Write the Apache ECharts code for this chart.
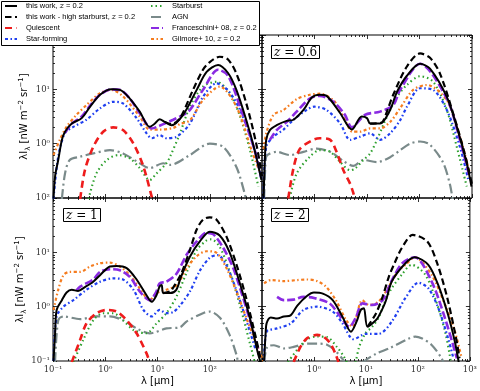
<!DOCTYPE html>
<html>
<head>
<meta charset="utf-8">
<script src="https://cdn.jsdelivr.net/npm/echarts@6/dist/echarts.min.js"></script>
<style>
  html, body { margin: 0; padding: 0; background: #fff; }
  #chart { width: 480px; height: 391px; }
</style>
</head>
<body>
<div id="chart"></div>
<script>
// every point is [log10(lambda / um), log10(lambda I_lambda / nW m^-2 sr^-1)]

// z = 0.2
const z02_thisWork = [[-0.99,-1.01],[-0.96,-0.6],[-0.9,-0.3],[-0.83,0.07],[-0.77,0.22],[-0.64,0.37],[-0.45,0.47],[-0.29,0.68],[-0.1,0.9],[0.12,1.0],[0.28,0.99],[0.47,0.83],[0.66,0.59],[0.85,0.31],[0.95,0.37],[1.04,0.45],[1.14,0.4],[1.27,0.34],[1.49,0.53],[1.75,0.99],[1.94,1.32],[2.16,1.45],[2.35,1.3],[2.51,0.99],[2.7,0.43],[2.86,-0.12],[2.99,-0.67]];
const z02_highSB = [[1.14,0.4],[1.27,0.36],[1.43,0.47],[1.68,0.99],[1.87,1.36],[2.0,1.5],[2.19,1.6],[2.35,1.55],[2.51,1.29],[2.7,0.74],[2.89,0.0],[3.0,-0.6]];
const z02_quiescent = [[-0.48,-1.02],[-0.39,-0.49],[-0.23,-0.06],[-0.04,0.22],[0.15,0.3],[0.34,0.25],[0.54,0.0],[0.73,-0.42],[0.89,-0.98],[0.92,-1.1]];
const z02_starForming = [[-0.99,-1.01],[-0.9,-0.24],[-0.77,0.2],[-0.61,0.31],[-0.36,0.44],[-0.1,0.65],[0.15,0.77],[0.34,0.74],[0.6,0.47],[0.79,0.19],[0.89,0.1],[1.04,0.16],[1.17,0.1],[1.37,0.13],[1.62,0.37],[1.87,0.86],[2.13,1.11],[2.35,0.98],[2.58,0.62],[2.86,-0.12],[2.99,-0.67]];
const z02_starburst = [[-0.32,-1.02],[-0.17,-0.55],[0.03,-0.3],[0.25,-0.21],[0.47,-0.27],[0.66,-0.45],[0.85,-0.67],[0.98,-0.55],[1.17,-0.36],[1.24,-0.24],[1.43,0.19],[1.62,0.68],[1.87,1.05],[2.13,1.14],[2.38,0.93],[2.58,0.5],[2.77,-0.12],[2.93,-0.79]];
const z02_agn = [[-0.83,-1.02],[-0.77,-0.55],[-0.68,-0.3],[-0.48,-0.24],[-0.23,-0.18],[0.09,-0.12],[0.34,-0.18],[0.66,-0.36],[0.85,-0.45],[1.11,-0.36],[1.24,-0.39],[1.62,-0.21],[2.0,0.0],[2.26,-0.06],[2.51,-0.43],[2.67,-0.92],[2.7,-1.05]];
const z02_fr08 = [[-0.77,0.2],[-0.64,0.37],[-0.45,0.5],[-0.29,0.7],[-0.1,0.9],[0.12,1.0],[0.28,0.99],[0.47,0.83],[0.66,0.56],[0.89,0.28],[1.04,0.33],[1.3,0.44],[1.49,0.53],[1.62,0.62],[1.87,0.99],[2.16,1.36],[2.35,1.25],[2.58,0.68],[2.86,-0.12],[2.98,-0.6]];
const z02_gi10 = [[-0.99,-0.21],[-0.87,0.07],[-0.74,0.31],[-0.55,0.53],[-0.36,0.71],[-0.1,0.93],[0.12,0.99],[0.34,0.87],[0.66,0.5],[0.85,0.26],[1.04,0.26],[1.3,0.29],[1.43,0.36],[1.62,0.43],[1.87,0.8],[2.19,1.05],[2.51,0.68],[2.8,-0.12],[2.97,-0.55]];

// z = 0.6
const z06_thisWork = [[-0.97,-1.01],[-0.95,-0.4],[-0.92,0.07],[-0.85,0.25],[-0.72,0.34],[-0.53,0.42],[-0.4,0.44],[-0.21,0.62],[-0.05,0.85],[0.1,0.9],[0.23,0.88],[0.49,0.56],[0.71,0.26],[0.9,0.5],[1.0,0.47],[1.06,0.37],[1.25,0.37],[1.44,0.62],[1.57,0.95],[1.76,1.25],[2.01,1.47],[2.2,1.38],[2.52,0.86],[2.71,0.31],[2.9,-0.36],[2.99,-0.79]];
const z06_highSB = [[1.06,0.37],[1.25,0.38],[1.31,0.42],[1.5,0.9],[1.76,1.42],[2.01,1.66],[2.2,1.58],[2.39,1.29],[2.64,0.56],[2.86,-0.18],[3.0,-0.75]];
const z06_quiescent = [[-0.5,-1.01],[-0.4,-0.45],[-0.28,-0.1],[-0.03,0.07],[0.1,0.1],[0.3,0.07],[0.42,-0.15],[0.55,-0.49],[0.68,-0.74],[0.74,-0.91],[0.78,-1.05]];
const z06_starForming = [[-0.97,-1.01],[-0.92,-0.06],[-0.78,0.13],[-0.59,0.26],[-0.4,0.44],[-0.15,0.62],[0.0,0.68],[0.23,0.62],[0.49,0.37],[0.68,0.07],[0.87,0.13],[1.06,0.19],[1.25,0.07],[1.44,0.19],[1.63,0.43],[1.76,0.68],[2.01,1.02],[2.26,0.99],[2.52,0.62],[2.77,-0.06],[2.93,-0.67]];
const z06_starburst = [[-0.47,-1.0],[-0.34,-0.55],[-0.09,-0.24],[0.1,-0.12],[0.3,-0.15],[0.49,-0.34],[0.68,-0.49],[0.77,-0.46],[0.93,-0.3],[1.06,-0.18],[1.19,0.07],[1.32,0.37],[1.44,0.62],[1.57,0.86],[1.76,1.08],[2.01,1.24],[2.26,1.14],[2.52,0.62],[2.71,-0.06],[2.9,-0.79]];
const z06_agn = [[-0.96,-1.02],[-0.93,-0.3],[-0.9,-0.21],[-0.72,-0.15],[-0.47,-0.21],[-0.21,-0.15],[0.04,-0.09],[0.3,-0.15],[0.55,-0.32],[0.74,-0.41],[0.93,-0.3],[1.19,-0.34],[1.44,-0.25],[1.63,-0.12],[1.82,0.0],[2.01,0.04],[2.2,-0.02],[2.45,-0.35],[2.58,-0.75],[2.63,-1.02]];
const z06_fr08 = [[-0.85,0.07],[-0.72,0.25],[-0.53,0.4],[-0.34,0.59],[-0.09,0.83],[0.1,0.88],[0.36,0.77],[0.58,0.53],[0.71,0.3],[0.96,0.53],[1.25,0.59],[1.5,0.71],[1.63,0.99],[2.01,1.47],[2.52,0.83],[2.77,0.07],[2.95,-0.6]];
const z06_gi10 = [[-0.97,-0.1],[-0.92,0.19],[-0.78,0.53],[-0.59,0.62],[-0.34,0.82],[-0.09,0.9],[0.1,0.92],[0.36,0.8],[0.49,0.6],[0.61,0.38],[0.72,0.22],[0.87,0.22],[1.06,0.28],[1.25,0.28],[1.44,0.4],[1.63,0.65],[1.88,0.99],[2.14,1.08],[2.52,0.8],[2.77,0.13],[2.96,-0.55]];

// z = 1
const z1_thisWork = [[-0.99,-1.0],[-0.96,-0.49],[-0.93,-0.06],[-0.83,0.12],[-0.74,0.26],[-0.64,0.31],[-0.52,0.29],[-0.39,0.36],[-0.23,0.46],[-0.1,0.58],[0.09,0.74],[0.22,0.75],[0.41,0.71],[0.6,0.5],[0.79,0.21],[0.89,0.09],[0.98,0.21],[1.04,0.37],[1.08,0.4],[1.11,0.25],[1.24,0.25],[1.36,0.31],[1.45,0.55],[1.62,0.92],[1.81,1.2],[2.0,1.38],[2.19,1.31],[2.38,1.0],[2.57,0.45],[2.76,-0.18],[2.92,-0.85],[2.98,-1.05]];
const z1_highSB = [[1.11,0.25],[1.24,0.28],[1.3,0.35],[1.45,0.6],[1.62,1.04],[1.75,1.42],[1.87,1.6],[2.0,1.645],[2.13,1.6],[2.32,1.29],[2.51,0.78],[2.7,0.15],[2.89,-0.6],[2.97,-0.94]];
const z1_quiescent = [[-0.64,-1.02],[-0.48,-0.61],[-0.36,-0.31],[-0.17,-0.12],[0.03,-0.06],[0.22,-0.09],[0.41,-0.25],[0.6,-0.49],[0.79,-0.86],[0.85,-1.02]];
const z1_starForming = [[-0.99,-1.0],[-0.93,-0.18],[-0.8,0.0],[-0.61,0.12],[-0.36,0.31],[-0.1,0.46],[0.15,0.52],[0.34,0.5],[0.54,0.31],[0.73,-0.06],[0.89,-0.18],[1.04,-0.06],[1.17,-0.12],[1.3,-0.1],[1.43,0.02],[1.62,0.28],[1.81,0.66],[2.0,0.9],[2.15,0.95],[2.32,0.76],[2.51,0.3],[2.7,-0.25],[2.88,-0.8]];
const z1_starburst = [[-0.61,-1.02],[-0.42,-0.61],[-0.23,-0.25],[-0.04,-0.12],[0.15,-0.12],[0.34,-0.25],[0.54,-0.43],[0.79,-0.49],[0.98,-0.31],[1.17,-0.12],[1.36,0.18],[1.55,0.61],[1.75,1.04],[1.94,1.22],[2.03,1.24],[2.19,1.1],[2.38,0.65],[2.57,0.05],[2.77,-0.68],[2.86,-1.02]];
const z1_agn = [[-0.96,-1.02],[-0.9,-0.25],[-0.8,-0.18],[-0.48,-0.23],[-0.17,-0.18],[0.09,-0.18],[0.34,-0.25],[0.6,-0.4],[0.85,-0.49],[1.17,-0.4],[1.43,-0.38],[1.56,-0.27],[1.87,-0.12],[2.0,-0.09],[2.2,-0.21],[2.38,-0.52],[2.51,-0.88],[2.54,-1.02]];
const z1_fr08 = [[-0.55,0.3],[-0.48,0.37],[-0.23,0.5],[-0.1,0.64],[0.09,0.69],[0.28,0.67],[0.47,0.55],[0.66,0.28],[0.85,0.12],[0.98,0.28],[1.04,0.43],[1.17,0.46],[1.36,0.6],[1.56,0.96],[1.75,1.2],[1.94,1.36],[2.07,1.33],[2.26,1.08],[2.45,0.71],[2.64,0.16],[2.83,-0.45],[2.95,-0.9]];
const z1_gi10 = [[-0.99,-0.06],[-0.9,0.31],[-0.8,0.58],[-0.68,0.64],[-0.48,0.64],[-0.29,0.74],[-0.1,0.8],[0.09,0.81],[0.28,0.74],[0.47,0.58],[0.66,0.34],[0.85,0.12],[0.98,0.25],[1.17,0.31],[1.37,0.4],[1.56,0.71],[1.75,0.93],[1.94,1.02],[2.13,0.99],[2.32,0.71],[2.51,0.28],[2.7,-0.21],[2.9,-0.7],[3.02,-1.0]];

// z = 2
const z2_thisWork = [[-0.96,-1.0],[-0.93,-0.49],[-0.91,-0.3],[-0.83,-0.2],[-0.71,-0.22],[-0.58,-0.18],[-0.45,-0.16],[-0.32,0.02],[-0.13,0.2],[0.0,0.26],[0.17,0.24],[0.36,0.12],[0.55,-0.19],[0.71,-0.46],[0.83,-0.25],[0.9,-0.06],[0.96,-0.03],[1.03,-0.37],[1.19,-0.25],[1.25,-0.17],[1.38,0.1],[1.5,0.47],[1.76,0.8],[1.94,0.91],[2.2,0.77],[2.39,0.4],[2.58,-0.15],[2.71,-0.64],[2.77,-0.94],[2.79,-1.05]];
const z2_highSB = [[1.03,-0.37],[1.19,-0.13],[1.32,0.18],[1.44,0.55],[1.55,0.8],[1.69,1.08],[1.9,1.32],[2.18,1.2],[2.37,0.8],[2.56,0.18],[2.73,-0.56],[2.8,-0.95]];
const z2_quiescent = [[-0.39,-1.02],[-0.26,-0.74],[-0.13,-0.58],[0.06,-0.52],[0.18,-0.55],[0.31,-0.67],[0.41,-0.86],[0.47,-1.02]];
const z2_starForming = [[-0.96,-1.0],[-0.91,-0.46],[-0.71,-0.4],[-0.45,-0.31],[-0.2,-0.06],[0.06,0.0],[0.36,-0.09],[0.55,-0.31],[0.76,-0.6],[1.0,-0.5],[1.25,-0.5],[1.5,-0.27],[1.76,0.16],[2.01,0.44],[2.2,0.34],[2.39,-0.02],[2.58,-0.58],[2.68,-0.94]];
const z2_starburst = [[-0.5,-1.02],[-0.32,-0.79],[-0.13,-0.6],[0.06,-0.55],[0.25,-0.56],[0.44,-0.74],[0.57,-0.91],[0.63,-1.02],[0.72,-1.2],[0.8,-1.02],[0.87,-0.74],[0.99,-0.49],[1.12,-0.37],[1.25,-0.19],[1.35,0.06],[1.47,0.3],[1.69,0.59],[1.88,0.77],[2.14,0.59],[2.33,0.16],[2.52,-0.45],[2.61,-0.88],[2.64,-1.05]];
const z2_agn = [[-0.96,-1.02],[-0.9,-0.74],[-0.77,-0.71],[-0.58,-0.77],[-0.39,-0.74],[-0.13,-0.68],[0.06,-0.68],[0.25,-0.7],[0.42,-0.82],[0.58,-1.0],[0.78,-1.25],[0.95,-1.02],[1.19,-0.87],[1.44,-0.77],[1.82,-0.59],[1.95,-0.55],[2.07,-0.58],[2.26,-0.7],[2.45,-0.94],[2.5,-1.05]];
const z2_fr08 = [[-0.71,0.18],[-0.58,0.12],[-0.39,0.13],[-0.2,0.18],[0.0,0.16],[0.3,0.06],[0.49,-0.16],[0.68,-0.37],[0.81,-0.19],[0.93,0.06],[1.12,0.03],[1.32,0.12],[1.5,0.49],[1.7,0.8],[1.94,0.91],[2.26,0.47],[2.52,-0.21],[2.75,-0.95]];
const z2_gi10 = [[-0.96,0.43],[-0.83,0.49],[-0.58,0.47],[-0.32,0.49],[-0.13,0.5],[0.06,0.47],[0.23,0.37],[0.42,0.12],[0.62,-0.25],[0.74,-0.37],[0.93,0.12],[1.06,0.03],[1.25,0.1],[1.44,0.37],[1.63,0.67],[1.76,0.77],[1.94,0.91],[2.26,0.59],[2.52,0.04],[2.71,-0.45],[2.84,-0.94]];

const panelLabels = ['', '0.6', '1', '2'];
const tickLabels = {'-1': '10⁻¹', '0': '10⁰', '1': '10¹', '2': '10²', '3': '10³'};
const minorMantissa = [2, 3, 4, 5, 6, 7, 8, 9];
const xDecades = [0.1, 1, 10, 100];
const yDecades = [0.1, 1, 10];

const NAME_TW = 'this work, z = 0.2';
const NAME_HSB = 'this work - high starburst, z = 0.2';
const NAME_Q = 'Quiescent';
const NAME_SF = 'Star-forming';
const NAME_SB = 'Starburst';
const NAME_AGN = 'AGN';
const NAME_FR = 'Franceschini+ 08, z = 0.2';
const NAME_GI = 'Gilmore+ 10, z = 0.2';

const styles = {
  agn:        {name: NAME_AGN, color: '#7a8a8a', width: 2.2, type: [10, 3.5, 2, 3.5]},
  starburst:  {name: NAME_SB,  color: '#2ea02e', width: 2.1, type: [1.5, 3]},
  quiescent:  {name: NAME_Q,   color: '#ee1c1c', width: 2.6, type: [7, 4.5]},
  starForming:{name: NAME_SF,  color: '#1f3ff0', width: 2.2, type: [3, 2.5, 1.5, 2.5]},
  gi10:       {name: NAME_GI,  color: '#f57c1f', width: 2.2, type: [3, 2.5, 1.5, 2.5]},
  fr08:       {name: NAME_FR,  color: '#8a2be2', width: 2.6, type: [8, 3]},
  highSB:     {name: NAME_HSB, color: '#000',    width: 2.2, type: [6.5, 3.5]},
  thisWork:   {name: NAME_TW,  color: '#000',    width: 2,   type: 'solid'}
};

const panels = [
  {agn: z02_agn, starburst: z02_starburst, quiescent: z02_quiescent, starForming: z02_starForming, gi10: z02_gi10, fr08: z02_fr08, highSB: z02_highSB, thisWork: z02_thisWork},
  {agn: z06_agn, starburst: z06_starburst, quiescent: z06_quiescent, starForming: z06_starForming, gi10: z06_gi10, fr08: z06_fr08, highSB: z06_highSB, thisWork: z06_thisWork},
  {agn: z1_agn, starburst: z1_starburst, quiescent: z1_quiescent, starForming: z1_starForming, gi10: z1_gi10, fr08: z1_fr08, highSB: z1_highSB, thisWork: z1_thisWork},
  {agn: z2_agn, starburst: z2_starburst, quiescent: z2_quiescent, starForming: z2_starForming, gi10: z2_gi10, fr08: z2_fr08, highSB: z2_highSB, thisWork: z2_thisWork}
];

const grids = [
  {left: 53,  top: 35,  width: 209, height: 163},
  {left: 262, top: 35,  width: 210, height: 163},
  {left: 53,  top: 198, width: 209, height: 163},
  {left: 262, top: 198, width: 210, height: 163}
];

function minorTicks(decades) {
  const out = [];
  decades.forEach(d => minorMantissa.forEach(m => out.push(Number((m * d).toPrecision(6)))));
  return out;
}
const xMinor = minorTicks(xDecades);
const yMinor = minorTicks(yDecades);

function fmt(hide) {
  return v => {
    const e = Math.round(Math.log10(v));
    return hide.indexOf(e) >= 0 ? '' : (tickLabels[e] || '');
  };
}

const labelStyle = {fontSize: 8.5, fontFamily: 'DejaVu Serif', color: '#333'};
const tickLine = {color: '#000', width: 0.8};

function xAxes(p, showLabels, hide) {
  const base = {type: 'log', logBase: 10, gridIndex: p, min: 0.1, max: 1000,
    splitLine: {show: false}, axisLine: {show: false}, axisLabel: {show: false}};
  return [
    Object.assign({}, base, {position: 'bottom',
      axisTick: {inside: true, length: 4, lineStyle: tickLine},
      axisLabel: Object.assign({show: showLabels, margin: 4, formatter: fmt(hide)}, labelStyle),
      name: showLabels ? 'λ [μm]' : '', nameLocation: 'middle', nameGap: 15,
      nameTextStyle: {fontSize: 10, fontFamily: 'DejaVu Sans', color: '#000'}}),
    Object.assign({}, base, {position: 'bottom', axisTick: {inside: true, length: 2, lineStyle: tickLine, customValues: xMinor}}),
    Object.assign({}, base, {position: 'top', axisTick: {inside: true, length: 4, lineStyle: tickLine}}),
    Object.assign({}, base, {position: 'top', axisTick: {inside: true, length: 2, lineStyle: tickLine, customValues: xMinor}})
  ];
}

function yAxes(p, showLabels, hide) {
  const base = {type: 'log', logBase: 10, gridIndex: p, min: 0.1, max: 100,
    splitLine: {show: false}, axisLine: {show: false}, axisLabel: {show: false}};
  return [
    Object.assign({}, base, {position: 'left',
      axisTick: {inside: true, length: 4, lineStyle: tickLine},
      axisLabel: Object.assign({show: showLabels, margin: 3, formatter: fmt(hide)}, labelStyle),
      name: showLabels ? 'λI{sub|λ} [nW m{sup|−2} sr{sup|−1}]' : '', nameLocation: 'middle', nameGap: 21,
      nameTextStyle: {fontSize: 10, fontFamily: 'DejaVu Sans', color: '#000', lineHeight: 14,
        rich: {sub: {fontSize: 7, verticalAlign: 'bottom', fontFamily: 'DejaVu Sans'},
               sup: {fontSize: 7, verticalAlign: 'top', fontFamily: 'DejaVu Sans'}}}}),
    Object.assign({}, base, {position: 'left', axisTick: {inside: true, length: 2, lineStyle: tickLine, customValues: yMinor}}),
    Object.assign({}, base, {position: 'right', axisTick: {inside: true, length: 4, lineStyle: tickLine}}),
    Object.assign({}, base, {position: 'right', axisTick: {inside: true, length: 2, lineStyle: tickLine, customValues: yMinor}})
  ];
}

const xAxis = [].concat(xAxes(0, false, []), xAxes(1, false, []), xAxes(2, true, [3]), xAxes(3, true, [-1]));
const yAxis = [].concat(yAxes(0, true, [-1, 2]), yAxes(1, false, []), yAxes(2, true, []), yAxes(3, false, []));

const series = [];
panels.forEach((panel, p) => {
  Object.keys(styles).forEach((key, k) => {
    const s = styles[key];
    series.push({
      type: 'line', name: s.name, xAxisIndex: 4 * p, yAxisIndex: 4 * p,
      data: panel[key].map(d => [Math.pow(10, d[0]), Math.pow(10, d[1])]),
      symbol: 'none', showSymbol: false, smooth: 0.3, z: 2 + k * 0.1,
      lineStyle: {color: s.color, width: s.width, type: s.type},
      itemStyle: {color: s.color},
      emphasis: {disabled: true}
    });
  });
});

const legendText = {
  fontSize: 7.5, fontFamily: 'Liberation Sans', color: '#000', lineHeight: 8, padding: [0, 0, 0, 4],
  rich: {i: {fontSize: 8, fontStyle: 'italic', fontFamily: 'DejaVu Serif', lineHeight: 8}}
};
const legendFmt = name => name.replace('z = ', '{i|z} = ');
const legendBase = {
  orient: 'vertical', top: 2, padding: 0, itemGap: 3, itemWidth: 12, itemHeight: 8,
  textStyle: legendText, formatter: legendFmt, selectedMode: false, z: 20,
  itemStyle: {opacity: 0, borderWidth: 0}
};

const titles = panelLabels.map((lab, p) => lab === '' ? {show: false} : {
  text: '{i|z} = ' + lab,
  left: grids[p].left + (p === 2 ? 10 : 9), top: grids[p].top + 10,
  padding: [1, 3, 0, 3], borderColor: '#000', borderWidth: 1, backgroundColor: '#fff',
  textStyle: {fontSize: 12, fontWeight: 'normal', fontFamily: 'DejaVu Serif', color: '#000', lineHeight: 13,
    rich: {i: {fontSize: 12, fontStyle: 'italic', fontFamily: 'DejaVu Serif', lineHeight: 13}}}
});

const chart = echarts.init(document.getElementById('chart'), null, {renderer: 'canvas'});
chart.setOption({
  animation: false,
  backgroundColor: '#fff',
  title: titles,
  grid: grids.map(g => Object.assign({show: true, borderColor: '#000', borderWidth: 1, backgroundColor: 'transparent'}, g)),
  xAxis: xAxis,
  yAxis: yAxis,
  legend: [
    Object.assign({data: [NAME_TW, NAME_HSB, NAME_Q, NAME_SF], left: 4}, legendBase),
    Object.assign({data: [NAME_SB, NAME_AGN, NAME_FR, NAME_GI], left: 150}, legendBase)
  ],
  graphic: [{
    type: 'rect', z: 15, silent: true,
    shape: {x: 1.5, y: 1.5, width: 258, height: 44},
    style: {fill: '#fff', stroke: '#000', lineWidth: 1}
  }],
  series: series
});
</script>
</body>
</html>
